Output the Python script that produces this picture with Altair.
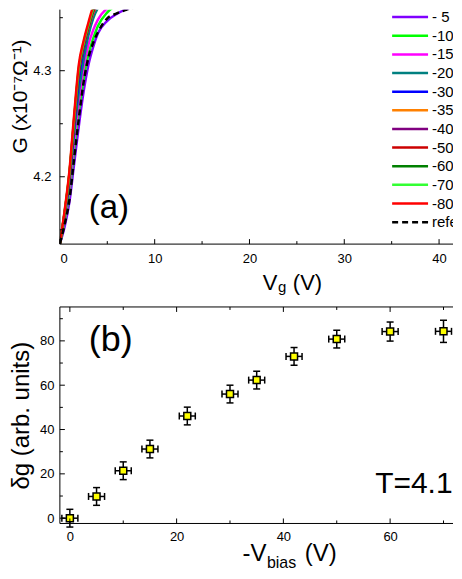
import altair as alt
import pandas as pd

FONT = "Liberation Sans"

# ---------------- panel (a) data ----------------
vg = [0, 0.5, 1, 1.5, 2, 2.5, 3, 3.5, 4, 5, 6, 7, 8, 9, 10, 12, 15, 20, 30, 45]
series_labels = ["- 5", "-10", "-15", "-20", "-30", "-35", "-40", "-50", "-60", "-70", "-80"]
series_colors = ["#8000ff", "#00ff00", "#ff00ff", "#008080", "#0000ff", "#ff8000",
                 "#800080", "#cc0000", "#008000", "#33ff33", "#ff0000"]
ref_label = "reference"

g_m5 = [4.137, 4.153, 4.176, 4.212, 4.248, 4.280, 4.305, 4.322, 4.335, 4.347, 4.3535, 4.358, 4.3612, 4.3635, 4.365, 4.367, 4.368, 4.369, 4.370, 4.370]
g_m10 = [4.137, 4.158, 4.185, 4.225, 4.262, 4.292, 4.315, 4.330, 4.342, 4.355, 4.362, 4.366, 4.369, 4.371, 4.372, 4.373, 4.374, 4.374, 4.375, 4.375]
g_m15 = [4.137, 4.160, 4.190, 4.232, 4.270, 4.302, 4.324, 4.338, 4.348, 4.359, 4.364, 4.368, 4.370, 4.372, 4.373, 4.374, 4.375, 4.375, 4.376, 4.376]
g_m20 = [4.137, 4.162, 4.195, 4.240, 4.280, 4.310, 4.333, 4.349, 4.359, 4.367, 4.371, 4.373, 4.375, 4.376, 4.377, 4.377, 4.378, 4.378, 4.378, 4.378]
g_m30 = [4.137, 4.164, 4.198, 4.247, 4.292, 4.320, 4.340, 4.354, 4.362, 4.370, 4.373, 4.375, 4.376, 4.377, 4.378, 4.378, 4.378, 4.379, 4.379, 4.379]
g_m35 = [4.137, 4.166, 4.203, 4.254, 4.299, 4.323, 4.340, 4.354, 4.362, 4.370, 4.373, 4.375, 4.376, 4.377, 4.378, 4.378, 4.379, 4.379, 4.379, 4.379]
g_m40 = [4.137, 4.165, 4.200, 4.250, 4.298, 4.322, 4.340, 4.355, 4.363, 4.370, 4.374, 4.376, 4.377, 4.378, 4.378, 4.379, 4.379, 4.380, 4.380, 4.380]
g_m50 = [4.137, 4.166, 4.201, 4.252, 4.300, 4.324, 4.341, 4.356, 4.364, 4.371, 4.374, 4.376, 4.377, 4.378, 4.379, 4.379, 4.380, 4.380, 4.380, 4.380]
g_m60 = [4.137, 4.166, 4.202, 4.253, 4.301, 4.325, 4.342, 4.357, 4.365, 4.372, 4.375, 4.377, 4.378, 4.379, 4.379, 4.380, 4.380, 4.380, 4.381, 4.381]
g_m70 = [4.137, 4.167, 4.203, 4.255, 4.303, 4.326, 4.343, 4.358, 4.366, 4.372, 4.375, 4.377, 4.378, 4.379, 4.380, 4.380, 4.381, 4.381, 4.381, 4.381]
g_m80 = [4.137, 4.168, 4.205, 4.258, 4.306, 4.328, 4.345, 4.360, 4.367, 4.373, 4.376, 4.378, 4.379, 4.380, 4.380, 4.381, 4.381, 4.382, 4.382, 4.382]
g_ref = [4.137, 4.155, 4.178, 4.217, 4.255, 4.289, 4.312, 4.326, 4.336, 4.3494, 4.354, 4.3575, 4.360, 4.3625, 4.364, 4.366, 4.367, 4.368, 4.369, 4.369]

series_values = [g_m5, g_m10, g_m15, g_m20, g_m30, g_m35, g_m40, g_m50, g_m60, g_m70, g_m80]

xa_major = [0, 10, 20, 30, 40]
xa_minor = [5, 15, 25, 35]
ya_major = [4.2, 4.3]
ya_minor = [4.15, 4.25, 4.35]

# ---------------- panel (b) data ----------------
vbias = [0, 5, 10, 15, 22, 30, 35, 42, 50, 60, 70]
dg = [0.0, 9.8, 21.4, 31.2, 46.1, 56.0, 62.3, 73.0, 80.8, 84.2, 84.3]
dg_err = [4.0, 4.0, 4.0, 4.0, 4.0, 4.0, 4.0, 4.0, 4.0, 4.3, 5.0]
vb_err = [1.5, 1.5, 1.5, 1.5, 1.5, 1.5, 1.5, 1.5, 1.5, 1.5, 1.5]

xb_major = [0, 20, 40, 60]
xb_minor = [10, 30, 50, 70]
yb_major = [0, 20, 40, 60, 80]
yb_minor = [10, 30, 50, 70, 90]

# ---------------- tables ----------------
rows = []
for lab, vals in zip(series_labels, series_values):
    for x, y in zip(vg, vals):
        rows.append({"series": lab, "vg": x, "g": y})
df_curves = pd.DataFrame(rows)
df_ref = pd.DataFrame({"vg": vg, "g": g_ref})

leg_labels = series_labels + [ref_label]
df_leg = pd.DataFrame({"row": list(range(len(leg_labels))), "label": leg_labels})

df_b = pd.DataFrame({"vb": vbias, "dg": dg, "dg_err": dg_err, "vb_err": vb_err})
df_b["dg_lo"] = df_b["dg"] - df_b["dg_err"]
df_b["dg_hi"] = df_b["dg"] + df_b["dg_err"]
df_b["vb_lo"] = df_b["vb"] - df_b["vb_err"]
df_b["vb_hi"] = df_b["vb"] + df_b["vb_err"]
caps_y = pd.DataFrame({"x": list(df_b["vb"]) * 2, "y": list(df_b["dg_lo"]) + list(df_b["dg_hi"])})
caps_x = pd.DataFrame({"x": list(df_b["vb_lo"]) + list(df_b["vb_hi"]), "y": list(df_b["dg"]) * 2})

# ---------------- layout ----------------
W = 394
H1 = 235
H2 = 217

xa = alt.Scale(domain=[0, 41.47], nice=False, zero=False)
ya = alt.Scale(domain=[4.1365, 4.3576], nice=False, zero=False)
color_scale = alt.Scale(domain=leg_labels, range=series_colors + ["#000000"])
leg_scale = alt.Scale(domain=[0, 11], range=[7.5, 213], nice=False, zero=False)
dash_scale = alt.Scale(domain=leg_labels, range=[[1, 0]] * 11 + [[6, 4]])

xb = alt.Scale(domain=[-1.87, 71.78], nice=False, zero=False)
yb = alt.Scale(domain=[-2.39, 95.3], nice=False, zero=False)

ONE = alt.Data(values=[{}])


def label(text, x, y, size, align="left", baseline="alphabetic", angle=0, clip=False):
    return alt.Chart(ONE).mark_text(
        text=text, fontSize=size, align=align, baseline=baseline, angle=angle,
        font=FONT, color="black", clip=clip
    ).encode(x=alt.value(x), y=alt.value(y))


def frame_line(x1, x2, y1, y2, opacity=1):
    return alt.Chart(ONE).mark_rule(color="black", strokeWidth=1, opacity=opacity).encode(
        x=alt.value(x1), x2=alt.value(x2), y=alt.value(y1), y2=alt.value(y2))


def tick_df(vals):
    return pd.DataFrame({"v": vals})


# ----- panel (a) -----
curves = alt.Chart(df_curves).mark_line(strokeWidth=2.5, clip=True, interpolate="monotone").encode(
    x=alt.X("vg:Q", scale=xa, axis=alt.Axis(values=xa_major, format="d", title=None, ticks=False,
                                            domain=False, labelPadding=8, grid=False)),
    y=alt.Y("g:Q", scale=ya, axis=alt.Axis(values=ya_major, format=".1f", title=None, ticks=False,
                                           domain=False, labelPadding=9, grid=False)),
    color=alt.Color("series:N", scale=color_scale, legend=None),
    detail="series:N",
)
ref_line = alt.Chart(df_ref).mark_line(strokeWidth=2.5, clip=True, color="black",
                                       strokeDash=[6, 4], interpolate="monotone").encode(
    x=alt.X("vg:Q", scale=xa),
    y=alt.Y("g:Q", scale=ya, axis=None),
)
xa_tmaj = alt.Chart(tick_df(xa_major)).mark_rule(color="black").encode(
    x=alt.X("v:Q", scale=xa), y=alt.value(H1), y2=alt.value(H1 - 5))
xa_tmin = alt.Chart(tick_df(xa_minor)).mark_rule(color="black").encode(
    x=alt.X("v:Q", scale=xa), y=alt.value(H1), y2=alt.value(H1 - 3))
ya_tmaj = alt.Chart(tick_df(ya_major)).mark_rule(color="black").encode(
    y=alt.Y("v:Q", scale=ya, axis=None), x=alt.value(0), x2=alt.value(5))
ya_tmin = alt.Chart(tick_df(ya_minor)).mark_rule(color="black").encode(
    y=alt.Y("v:Q", scale=ya, axis=None), x=alt.value(0), x2=alt.value(3))

leg_lines = alt.Chart(df_leg).mark_rule(strokeWidth=2.5, clip=True).encode(
    x=alt.value(333), x2=alt.value(369),
    y=alt.Y("row:Q", scale=leg_scale, axis=None),
    color=alt.Color("label:N", scale=color_scale, legend=None),
    strokeDash=alt.StrokeDash("label:N", scale=dash_scale, legend=None),
)
leg_text = alt.Chart(df_leg).mark_text(align="left", baseline="middle", fontSize=15, font=FONT,
                                       color="black", clip=True).encode(
    x=alt.value(373),
    y=alt.Y("row:Q", scale=leg_scale, axis=None),
    text="label:N",
)

top = alt.layer(
    curves, ref_line, xa_tmaj, xa_tmin, ya_tmaj, ya_tmin, leg_lines, leg_text,
    frame_line(0, 0, 0, H1), frame_line(0, W, H1, H1),
    frame_line(-52, -52, 100, 101, opacity=0),
    label("(a)", 29, 208.5, 33),
    label("G (x10\u207b\u2077\u03a9\u207b\u00b9)", -39, 87, 21, align="center", baseline="middle", angle=270),
    label("V", 218, 280.5, 22, align="right"),
    label("g", 218.5, 283, 15),
    label("(V)", 233.5, 280.5, 22),
).resolve_scale(y="independent").properties(width=W, height=H1)

# ----- panel (b) -----
err_y = alt.Chart(df_b).mark_rule(color="black", strokeWidth=1.5).encode(
    x=alt.X("vb:Q", scale=xb, axis=alt.Axis(values=xb_major, format="d", title=None, ticks=False,
                                            domain=False, labelPadding=7, grid=False)),
    y=alt.Y("dg_lo:Q", scale=yb, axis=alt.Axis(values=yb_major, format="d", title=None, ticks=False,
                                               domain=False, labelPadding=6, grid=False)),
    y2="dg_hi:Q",
)
err_x = alt.Chart(df_b).mark_rule(color="black", strokeWidth=1.5).encode(
    x=alt.X("vb_lo:Q", scale=xb), x2="vb_hi:Q", y=alt.Y("dg:Q", scale=yb))
cap_y = alt.Chart(caps_y).mark_tick(orient="horizontal", size=7, thickness=1.5, color="black",
                                    opacity=1).encode(
    x=alt.X("x:Q", scale=xb), y=alt.Y("y:Q", scale=yb))
cap_x = alt.Chart(caps_x).mark_tick(orient="vertical", size=7, thickness=1.5, color="black",
                                    opacity=1).encode(
    x=alt.X("x:Q", scale=xb), y=alt.Y("y:Q", scale=yb))
pts = alt.Chart(df_b).mark_square(size=49, fill="#ffff00", stroke="black", strokeWidth=1.5,
                                  opacity=1, filled=True).encode(
    x=alt.X("vb:Q", scale=xb), y=alt.Y("dg:Q", scale=yb))

xb_tmaj = alt.Chart(tick_df(xb_major)).mark_rule(color="black").encode(
    x=alt.X("v:Q", scale=xb), y=alt.value(H2), y2=alt.value(H2 - 5))
xb_tmin = alt.Chart(tick_df(xb_minor)).mark_rule(color="black").encode(
    x=alt.X("v:Q", scale=xb), y=alt.value(H2), y2=alt.value(H2 - 3))
xb_ttmaj = alt.Chart(tick_df(xb_major)).mark_rule(color="black").encode(
    x=alt.X("v:Q", scale=xb), y=alt.value(0), y2=alt.value(5))
xb_ttmin = alt.Chart(tick_df(xb_minor)).mark_rule(color="black").encode(
    x=alt.X("v:Q", scale=xb), y=alt.value(0), y2=alt.value(3))
yb_tmaj = alt.Chart(tick_df(yb_major)).mark_rule(color="black").encode(
    y=alt.Y("v:Q", scale=yb), x=alt.value(0), x2=alt.value(5))
yb_tmin = alt.Chart(tick_df(yb_minor)).mark_rule(color="black").encode(
    y=alt.Y("v:Q", scale=yb), x=alt.value(0), x2=alt.value(3))

bottom = alt.layer(
    err_y, err_x, cap_y, cap_x, pts,
    xb_tmaj, xb_tmin, xb_ttmaj, xb_ttmin, yb_tmaj, yb_tmin,
    frame_line(0, W, 0, 0), frame_line(0, 0, 0, H2), frame_line(0, W, H2, H2),
    label("(b)", 29, 44, 36),
    label("T=4.1", 316, 186, 30),
    label("\u03b4g (arb. units)", -37.5, 109, 24, align="center", baseline="middle", angle=270),
    label("-V", 207, 254.5, 24, align="right"),
    label("bias", 207.5, 261.5, 16),
    label("(V)", 245.5, 254.5, 24),
).properties(width=W, height=H2)

chart = alt.vconcat(top, bottom, spacing=63, bounds="flush").properties(
    padding=0
).configure_view(stroke=None).configure_axis(
    labelColor="black", labelFont=FONT, labelFontSize=13, ticks=False, grid=False
)

chart.save("out.html", embed_options={"renderer": "svg", "actions": False})
